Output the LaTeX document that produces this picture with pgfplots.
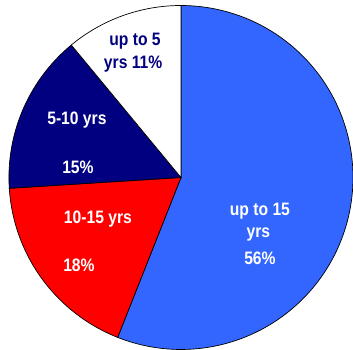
\documentclass[border=0pt]{standalone}
\usepackage{pgfplots}
\pgfplotsset{compat=1.18}
\usepackage{fontspec}
\setmainfont{Liberation Sans}
\definecolor{cblue}{HTML}{3366FF}
\definecolor{cred}{HTML}{FF0000}
\definecolor{cnavy}{HTML}{000080}
% shares in percent: up to 15 yrs 56, 10-15 yrs 18, 5-10 yrs 15, up to 5 yrs 11
\newcommand{\lbl}[1]{\scalebox{0.87}[1]{\fontsize{18}{20}\selectfont\bfseries #1}}
\begin{document}
\begin{tikzpicture}
\begin{axis}[
  width=353pt, height=350pt, scale only axis,
  xmin=-1.052, xmax=1.0, ymin=-1.003, ymax=1.032,
  hide axis, clip=true,
]
% start at 90 deg, clockwise; 1% = 3.6 deg
\addplot[fill=cblue, draw=black, line width=0.7pt, domain=-111.6:90, samples=120, variable=\t] ({cos(t)},{sin(t)}) -- (axis cs:0,0) -- cycle;
\addplot[fill=cred, draw=black, line width=0.7pt, domain=-176.4:-111.6, samples=50, variable=\t] ({cos(t)},{sin(t)}) -- (axis cs:0,0) -- cycle;
\addplot[fill=cnavy, draw=black, line width=0.7pt, domain=-230.4:-176.4, samples=50, variable=\t] ({cos(t)},{sin(t)}) -- (axis cs:0,0) -- cycle;
\addplot[fill=white, draw=black, line width=0.7pt, domain=-270:-230.4, samples=40, variable=\t] ({cos(t)},{sin(t)}) -- (axis cs:0,0) -- cycle;

\node[text=cnavy] at (axis cs:-0.267,0.794) {\lbl{up to 5}};
\node[text=cnavy] at (axis cs:-0.278,0.660) {\lbl{yrs 11\%}};
\node[text=white] at (axis cs:-0.605,0.334) {\lbl{5-10 yrs}};
\node[text=white] at (axis cs:-0.599,0.061) {\lbl{15\%}};
\node[text=white] at (axis cs:-0.483,-0.241) {\lbl{10-15 yrs}};
\node[text=white] at (axis cs:-0.593,-0.509) {\lbl{18\%}};
\node[text=white] at (axis cs:0.459,-0.195) {\lbl{up to 15}};
\node[text=white] at (axis cs:0.450,-0.334) {\lbl{yrs}};
\node[text=white] at (axis cs:0.459,-0.468) {\lbl{56\%}};
\end{axis}
\pgfresetboundingbox
\path (current axis.south west) rectangle (current axis.north east);
\end{tikzpicture}
\end{document}
